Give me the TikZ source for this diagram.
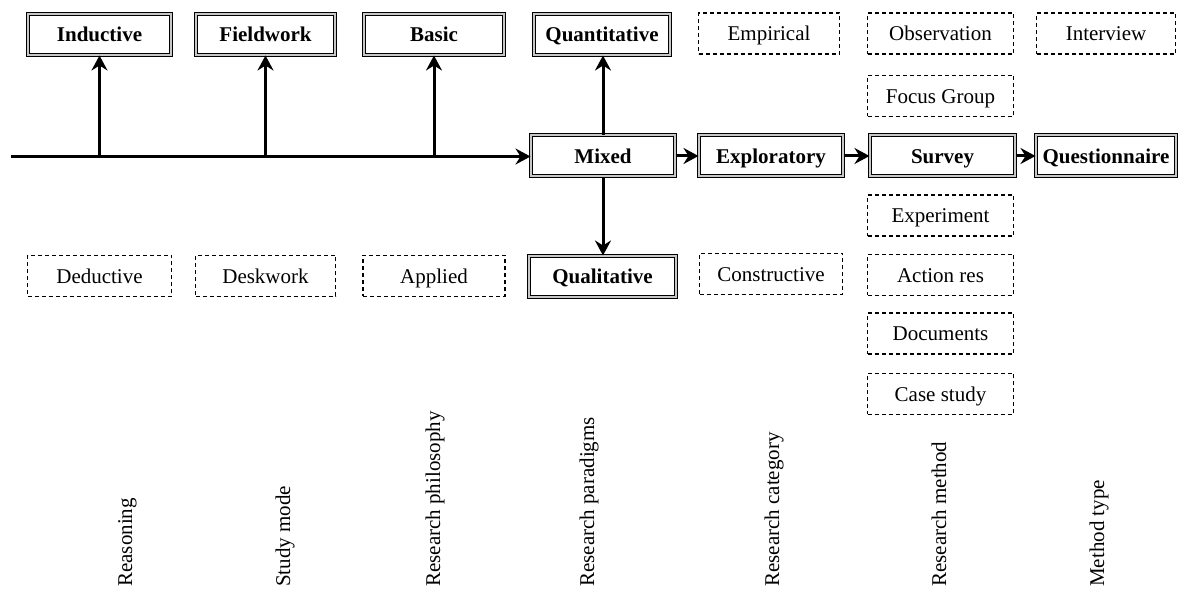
\documentclass[tikz,border=0pt]{standalone}
\usepackage{fontspec}
\setmainfont{Liberation Serif}
\usetikzlibrary{arrows.meta}

\begin{document}
\begin{tikzpicture}[x=1pt,y=-1pt,
  every node/.style={font=\fontsize{21}{25}\selectfont, inner sep=0pt,
    text height=17pt, text depth=2pt},
  mainbox/.style={draw=black, double=black!22, double distance=2pt, line width=1pt,
    fill=white, font=\fontsize{21}{25}\selectfont\bfseries, minimum height=41pt},
  altbox/.style={draw=black, dashed, dash pattern=on 4pt off 3pt, line width=1.1pt,
    minimum height=41pt},
  flow/.style={line width=3pt, -{Stealth[length=15pt,width=16pt,inset=5pt]}},
  axis/.style={line width=3pt},
  caption/.style={rotate=90, anchor=west, text height=14pt, text depth=4pt}]
\useasboundingbox (0,0) rectangle (1179,593);

% top row
\node[mainbox, minimum width=143pt] (inductive) at (99.5,34.5) {Inductive};
\node[mainbox, minimum width=139pt] (fieldwork) at (265.5,34.5) {Fieldwork};
\node[mainbox, minimum width=140pt] (basic) at (434,34.5) {Basic};
\node[mainbox, minimum width=136pt] (quant) at (602,34.5) {Quantitative};
\node[altbox, minimum width=141pt] (empirical) at (769,33.5) {Empirical};
\node[altbox, minimum width=146pt] (observation) at (940.5,33.5) {Observation};
\node[altbox, minimum width=139pt] (interview) at (1106,33.5) {Interview};
\node[altbox, minimum width=146pt] (focus) at (940.5,96) {Focus Group};

% main row
\node[mainbox, minimum width=144pt] (mixed) at (603,156) {Mixed};
\node[mainbox, minimum width=144pt] (exploratory) at (771,156) {Exploratory};
\node[mainbox, minimum width=145pt] (survey) at (942.5,156) {Survey};
\node[mainbox, minimum width=140pt] (questionnaire) at (1106,156) {Questionnaire};

% lower row
\node[altbox, minimum width=144pt] (deductive) at (99.5,276) {Deductive};
\node[altbox, minimum width=140pt] (deskwork) at (265.5,276) {Deskwork};
\node[altbox, minimum width=142pt] (applied) at (434,276) {Applied};
\node[mainbox, minimum width=147pt] (qual) at (602.5,276.5) {Qualitative};
\node[altbox, minimum width=143pt] (constructive) at (771,274) {Constructive};

% research method alternatives
\node[altbox, minimum width=146pt] (experiment) at (940.5,215.5) {Experiment};
\node[altbox, minimum width=146pt] (action) at (940.5,275) {Action res};
\node[altbox, minimum width=146pt] (documents) at (940.5,333.5) {Documents};
\node[altbox, minimum width=146pt] (casestudy) at (940.5,394) {Case study};

% axis and junctions
\coordinate (start) at (11,156.5);
\coordinate (j1) at (99.5,156.5);
\coordinate (j2) at (265.5,156.5);
\coordinate (j3) at (434,156.5);

\draw[axis] (start) -- (j3);
\draw[flow] (j3) -- (j3 -| mixed.west);
\draw[flow] (j1) -- (inductive.south);
\draw[flow] (j2) -- (fieldwork.south);
\draw[flow] (j3) -- (basic.south);
\draw[flow] (mixed.north) -- (quant.south -| mixed.north);
\draw[flow] (mixed.south) -- (qual.north -| mixed.south);
\draw[flow] (mixed.east) -- (exploratory.west);
\draw[flow] (exploratory.east) -- (survey.west);
\draw[flow] (survey.east) -- (questionnaire.west);

% column captions
\node[caption] (c1) at (127,587) {Reasoning};
\node[caption] (c2) at (285,587) {Study mode};
\node[caption] (c3) at (435,587) {Research philosophy};
\node[caption] (c4) at (589,587) {Research paradigms};
\node[caption] (c5) at (774,587) {Research category};
\node[caption] (c6) at (941,587) {Research method};
\node[caption] (c7) at (1099,587) {Method type};
\end{tikzpicture}
\end{document}
